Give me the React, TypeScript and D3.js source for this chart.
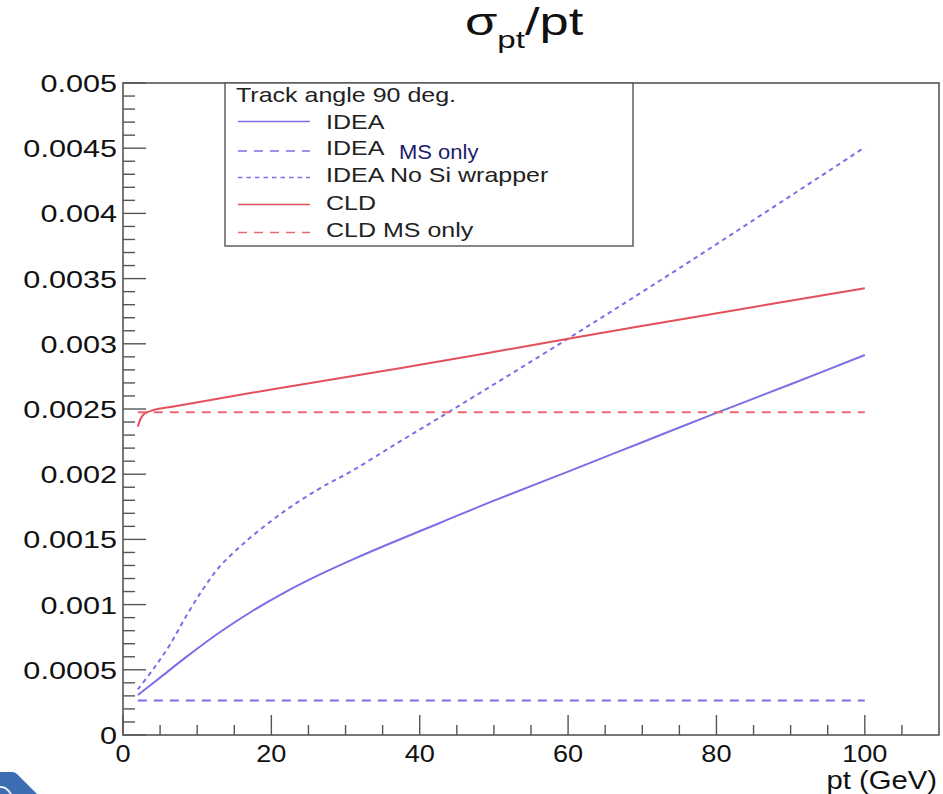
import React from "react";
import * as d3 from "d3";

// Relative transverse-momentum resolution vs pt at 90 degrees
const ptIdea = [2, 5, 8.5, 13, 17.5, 22, 26.5, 31, 35.5, 42.7, 50, 60, 70, 80, 90, 100];
const sigmaIdea = [0.000307, 0.00044, 0.000597, 0.000786, 0.000953, 0.0011, 0.00123, 0.001347, 0.001457, 0.001626, 0.001797, 0.00202, 0.002245, 0.00247, 0.00269, 0.002914];

const ptIdeaNoSi = [2, 4.2, 6.3, 8.6, 10.8, 13, 15.3, 17.5, 22, 26.5, 31, 37.3, 44, 60, 75, 100];
const sigmaIdeaNoSi = [0.00035, 0.000515, 0.00069, 0.00092, 0.00112, 0.00129, 0.00142, 0.00153, 0.001726, 0.00189, 0.00203, 0.00225, 0.00248, 0.00304, 0.00358, 0.004507];

const ptIdeaMS = [2, 100];
const sigmaIdeaMS = [0.000265, 0.000265];

const ptCld = [2, 2.7, 4.1, 7.2, 20, 37.3, 60.2, 77.7, 100];
const sigmaCld = [0.002364, 0.002454, 0.002492, 0.002523, 0.00265, 0.002812, 0.00304, 0.003212, 0.003426];

const ptCldMS = [2, 100];
const sigmaCldMS = [0.002475, 0.002475];

const xMajorTicks = [0, 20, 40, 60, 80, 100];
const xMinorTicks = [5, 10, 15, 25, 30, 35, 45, 50, 55, 65, 70, 75, 85, 90, 95, 105];
const xTickLabels = ["0", "20", "40", "60", "80", "100"];
const yMajorTicks = [0, 0.0005, 0.001, 0.0015, 0.002, 0.0025, 0.003, 0.0035, 0.004, 0.0045, 0.005];
const yTickLabels = ["0", "0.0005", "0.001", "0.0015", "0.002", "0.0025", "0.003", "0.0035", "0.004", "0.0045", "0.005"];

const BLUE = "#7a6fe6";
const RED = "#e3505b";
const RED_LIGHT = "#ea6670";
const FONT = "'Liberation Sans', Arial, sans-serif";

const W = 943;
const H = 794;

export default function App() {
  const x = d3.scaleLinear().domain([0, 110]).range([123, 939]);
  const y = d3.scaleLinear().domain([0, 0.005]).range([735, 83]);

  const line = d3
    .line<[number, number]>()
    .x((d) => x(d[0]))
    .y((d) => y(d[1]))
    .curve(d3.curveCatmullRom.alpha(0.5));

  const zip = (a: number[], b: number[]) => a.map((v, i) => [v, b[i]] as [number, number]);

  const series = [
    { name: "IDEA", pts: zip(ptIdea, sigmaIdea), color: BLUE, dash: undefined },
    { name: "IDEA MS", pts: zip(ptIdeaMS, sigmaIdeaMS), color: BLUE, dash: "9 7" },
    { name: "IDEA No Si wrapper", pts: zip(ptIdeaNoSi, sigmaIdeaNoSi), color: BLUE, dash: "4.5 4" },
    { name: "CLD", pts: zip(ptCld, sigmaCld), color: RED, dash: undefined },
    { name: "CLD MS only", pts: zip(ptCldMS, sigmaCldMS), color: RED_LIGHT, dash: "9 7" },
  ];

  const yMinor: number[] = [];
  for (let i = 0; i <= 50; i++) {
    if (i % 5 !== 0) yMinor.push(i * 0.0001);
  }

  const legendRows = [
    { label: "IDEA", color: BLUE, dash: undefined, ly: 121.5, ty: 128.5 },
    { label: "IDEA", color: BLUE, dash: "9 7", ly: 151, ty: 155 },
    { label: "IDEA No Si wrapper", color: BLUE, dash: "4.5 4", ly: 177.5, ty: 182 },
    { label: "CLD", color: RED, dash: undefined, ly: 204.5, ty: 209.5 },
    { label: "CLD MS only", color: RED_LIGHT, dash: "9 7", ly: 232.5, ty: 237 },
  ];

  return (
    <svg
      width={W}
      height={H}
      viewBox={`0 0 ${W} ${H}`}
      style={{ position: "absolute", left: 0, top: 0, background: "#fff" }}
      fontFamily={FONT}
    >
      <rect x={0} y={0} width={W} height={H} fill="#fff" />

      {/* title */}
      <g transform="translate(465,35) scale(1.38,1)">
        <text fontSize={38} fill="#111">
          σ
          <tspan fontSize={24} dy={13}>pt</tspan>
          <tspan fontSize={38} dy={-13}>/pt</tspan>
        </text>
      </g>

      {/* curves */}
      <g fill="none" strokeWidth={2}>
        {series.map((s) => (
          <path key={s.name} d={line(s.pts) || ""} stroke={s.color} strokeDasharray={s.dash} />
        ))}
      </g>

      {/* frame */}
      <rect x={x(0)} y={y(0.005)} width={x(110) - x(0)} height={y(0) - y(0.005)} fill="none" stroke="#555" strokeWidth={1.6} />

      {/* ticks */}
      <g stroke="#555" strokeWidth={1.4}>
        {yMajorTicks.map((v) => (
          <line key={"ym" + v} x1={x(0)} x2={x(0) + 23} y1={y(v)} y2={y(v)} />
        ))}
        {yMinor.map((v) => (
          <line key={"yn" + v} x1={x(0)} x2={x(0) + 12} y1={y(v)} y2={y(v)} />
        ))}
        {xMajorTicks.map((v) => (
          <line key={"xm" + v} x1={x(v)} x2={x(v)} y1={y(0)} y2={y(0) - 20} />
        ))}
        {xMinorTicks.map((v) => (
          <line key={"xn" + v} x1={x(v)} x2={x(v)} y1={y(0)} y2={y(0) - 10} />
        ))}
      </g>

      {/* y tick labels */}
      {yMajorTicks.map((v, i) => (
        <g key={"yl" + v} transform={`translate(117,${y(v) + 9}) scale(1.25,1)`}>
          <text fontSize={24.5} textAnchor="end" fill="#111">
            {yTickLabels[i]}
          </text>
        </g>
      ))}

      {/* x tick labels */}
      {xMajorTicks.map((v, i) => (
        <g key={"xl" + v} transform={`translate(${x(v)},762) scale(1.18,1)`}>
          <text fontSize={23} textAnchor="middle" fill="#111">
            {xTickLabels[i]}
          </text>
        </g>
      ))}

      {/* x axis title */}
      <g transform="translate(937,789) scale(1.17,1)">
        <text fontSize={25} textAnchor="end" fill="#111">
          pt (GeV)
        </text>
      </g>

      {/* legend */}
      <rect x={225} y={83} width={408} height={163} fill="#fff" stroke="#555" strokeWidth={1.4} />
      <g transform="translate(236,101.5) scale(1.22,1)">
        <text fontSize={20.5} fill="#222">Track angle 90 deg.</text>
      </g>
      {legendRows.map((r, i) => (
        <g key={"lg" + i}>
          <line x1={238} x2={310} y1={r.ly} y2={r.ly} stroke={r.color} strokeWidth={1.6} strokeDasharray={r.dash} />
          <g transform={`translate(326,${r.ty}) scale(1.22,1)`}>
            <text fontSize={20.5} fill="#222">{r.label}</text>
          </g>
        </g>
      ))}
      <g transform="translate(399,159) scale(1.1,1)">
        <text fontSize={20} fill="#1c1c6a">MS only</text>
      </g>

      {/* corner badge */}
      <path d="M0,772 L12,772 Q15,772 17,774 L37,794 L0,794 Z" fill="#3c6db2" />
      <path d="M0,787 Q6,786 11,794" fill="none" stroke="#e8eef7" strokeWidth={2} />
    </svg>
  );
}
